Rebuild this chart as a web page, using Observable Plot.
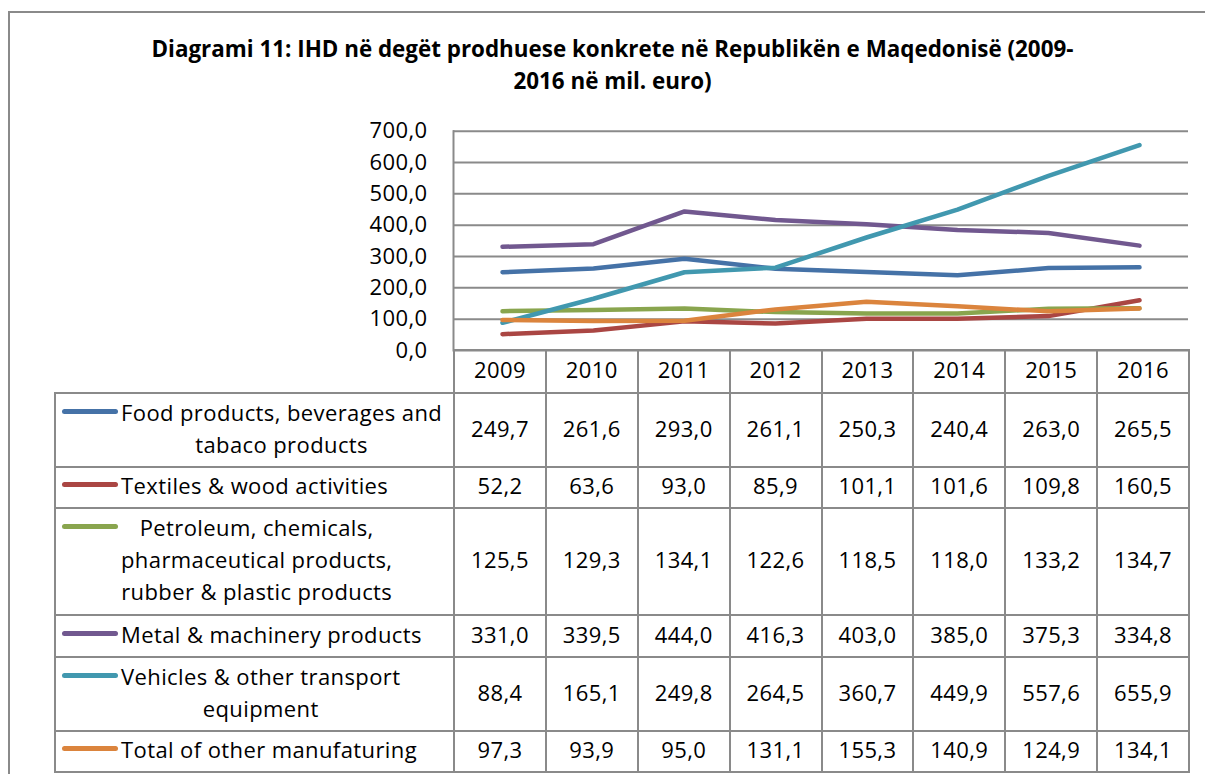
<!DOCTYPE html>
<html>
<head>
<meta charset="utf-8">
<script src="https://cdn.jsdelivr.net/npm/d3@7"></script>
<script src="https://cdn.jsdelivr.net/npm/@observablehq/plot@0.6"></script>
<style>
  html, body { margin: 0; padding: 0; background: #fff; }
  #root { position: relative; width: 1205px; height: 774px; overflow: hidden; font-family: "Open Sans", sans-serif; color: #000; }
  #frame { position: absolute; left: 8px; top: 11px; width: 1300px; height: 900px; border-left: 2px solid #8a8a8a; border-top: 2px solid #8a8a8a; }
  #title { position: absolute; left: 0; top: 33px; width: 1225px; text-align: center; font-weight: bold; font-size: 22.4px; line-height: 32px; }
  #chart { position: absolute; left: 0; top: 100px; }
  #tbl { position: absolute; left: 54px; top: 349px; border-collapse: collapse; table-layout: fixed; font-size: 22px; letter-spacing: 0.4px; }
  #tbl td { border: 2px solid #8a8a8a; padding: 0 0 5px 0; text-align: center; vertical-align: middle; white-space: nowrap; }
  #tbl td.blank { border-left: none; border-top: none; }
  .lab { position: relative; padding-left: 65px; text-align: left; }
  .lab .key { position: absolute; left: 6px; top: 13px; width: 56px; height: 5px; border-radius: 3px; }
  .lab .txt { display: inline-block; text-align: center; line-height: 32px; }
</style>
</head>
<body>
<div id="root">
  <div id="frame"></div>
  <div id="title">Diagrami 11: IHD në degët prodhuese konkrete në Republikën e Maqedonisë (2009-<br>2016 në mil. euro)</div>
  <div id="chart"></div>
  <table id="tbl"></table>
</div>
<script>
const years = ["2009", "2010", "2011", "2012", "2013", "2014", "2015", "2016"];
const seriesNames = [
  "Food products, beverages and\ntabaco products",
  "Textiles & wood activities",
  "Petroleum, chemicals,\npharmaceutical products,\nrubber & plastic products",
  "Metal & machinery products",
  "Vehicles & other transport\nequipment",
  "Total of other manufaturing"
];
const food      = [249.7, 261.6, 293.0, 261.1, 250.3, 240.4, 263.0, 265.5];
const textiles  = [52.2, 63.6, 93.0, 85.9, 101.1, 101.6, 109.8, 160.5];
const petroleum = [125.5, 129.3, 134.1, 122.6, 118.5, 118.0, 133.2, 134.7];
const metal     = [331.0, 339.5, 444.0, 416.3, 403.0, 385.0, 375.3, 334.8];
const vehicles  = [88.4, 165.1, 249.8, 264.5, 360.7, 449.9, 557.6, 655.9];
const other     = [97.3, 93.9, 95.0, 131.1, 155.3, 140.9, 124.9, 134.1];
const seriesColors = ["#4572A7", "#AA4643", "#89A54E", "#71588F", "#4198AF", "#DB843D"];
const yTicks = [0, 100, 200, 300, 400, 500, 600, 700];

const seriesValues = [food, textiles, petroleum, metal, vehicles, other];
const fmt = d => d.toFixed(1).replace(".", ",");

const data = [];
seriesNames.forEach((name, i) => {
  years.forEach((yr, j) => data.push({series: name, year: yr, value: seriesValues[i][j]}));
});

const plot = Plot.plot({
  width: 1205,
  height: 270,
  marginLeft: 453,
  marginRight: 17,
  marginTop: 30.7,
  marginBottom: 20,
  style: {fontFamily: "Open Sans, sans-serif", background: "transparent", color: "#000", letterSpacing: "0.4px"},
  x: {type: "point", domain: years, padding: 0.5, axis: null},
  y: {domain: [0, 700], label: null},
  color: {domain: seriesNames, range: seriesColors},
  marks: [
    Plot.gridY(yTicks, {stroke: "#8a8a8a", strokeOpacity: 1, strokeWidth: 2}),
    Plot.frame({anchor: "left", stroke: "#8a8a8a", strokeWidth: 2}),
    Plot.axisY(yTicks, {tickSize: 0, tickPadding: 26, fontSize: 22, label: null, tickFormat: fmt, fill: "#000"}),
    Plot.line(data, {x: "year", y: "value", z: "series", stroke: "series", strokeWidth: 4.5, strokeLinecap: "round", strokeLinejoin: "round"})
  ]
});
document.getElementById("chart").appendChild(plot);

// data table
const rowHeights = [74, 41, 107, 42, 74, 41];
const tbl = d3.select("#tbl");
const cg = tbl.append("colgroup");
cg.append("col").style("width", "399px");
years.forEach(() => cg.append("col").style("width", "91.875px"));
tbl.style("width", (399 + 91.875 * years.length) + "px");

const head = tbl.append("tr").style("height", "43px");
head.append("td").attr("class", "blank");
years.forEach(y => head.append("td").text(y));

seriesNames.forEach((name, i) => {
  const tr = tbl.append("tr").style("height", rowHeights[i] + "px");
  const td = tr.append("td");
  const lab = td.append("div").attr("class", "lab");
  lab.append("span").attr("class", "key").style("background", seriesColors[i]);
  const txt = lab.append("span").attr("class", "txt");
  name.split("\n").forEach((line, k) => {
    if (k > 0) txt.append("br");
    txt.append("span").text(line);
  });
  seriesValues[i].forEach(v => tr.append("td").text(fmt(v)));
});
</script>
</body>
</html>
